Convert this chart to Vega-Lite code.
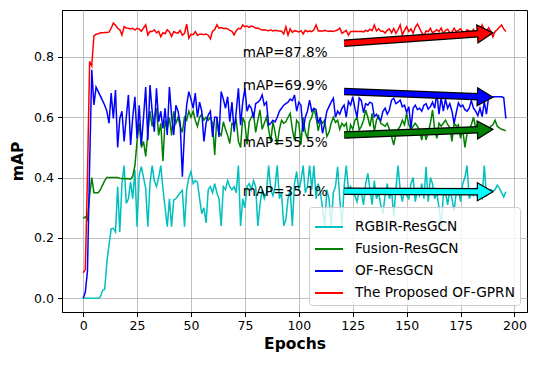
{
  "$schema": "https://vega.github.io/schema/vega-lite/v6.json",
  "width": 465,
  "height": 302,
  "autosize": {"type": "none"},
  "padding": {"left": 62, "top": 10, "right": 10, "bottom": 54},
  "background": "white",
  "datasets": {
    "curves": [
      {"e":0,"c":0,"g":0.265,"b":0,"r":0.084},
      {"e":1,"c":0,"g":0.27,"b":0.02,"r":0.095},
      {"e":2,"c":0,"g":0.26,"b":0.09,"r":0.40},
      {"e":3,"c":0,"g":0.34,"b":0.44,"r":0.785},
      {"e":4,"c":0,"g":0.40,"b":0.757,"r":0.77},
      {"e":5,"c":0,"g":0.35,"b":0.641,"r":0.87},
      {"e":6,"c":0,"g":0.35,"b":0.70,"r":0.875},
      {"e":7,"c":0,"g":0.35,"b":0.685,"r":0.877},
      {"e":8,"c":0.005,"g":0.36,"b":0.67,"r":0.88},
      {"e":9,"c":0.026,"g":0.375,"b":0.655,"r":0.88},
      {"e":10,"c":0.03,"g":0.39,"b":0.64,"r":0.881},
      {"e":11,"c":0.12,"g":0.40,"b":0.62,"r":0.881},
      {"e":12,"c":0.176,"g":0.40,"b":0.58,"r":0.882},
      {"e":13,"c":0.23,"g":0.40,"b":0.68,"r":0.895},
      {"e":14,"c":0.232,"g":0.40,"b":0.596,"r":0.912},
      {"e":15,"c":0.22,"g":0.40,"b":0.69,"r":0.905},
      {"e":16,"c":0.37,"g":0.40,"b":0.50,"r":0.895},
      {"e":17,"c":0.22,"g":0.398,"b":0.596,"r":0.89},
      {"e":18,"c":0.38,"g":0.397,"b":0.62,"r":0.873},
      {"e":19,"c":0.44,"g":0.396,"b":0.52,"r":0.90},
      {"e":20,"c":0.314,"g":0.397,"b":0.60,"r":0.896},
      {"e":21,"c":0.33,"g":0.396,"b":0.674,"r":0.895},
      {"e":22,"c":0.386,"g":0.395,"b":0.508,"r":0.893},
      {"e":23,"c":0.33,"g":0.405,"b":0.60,"r":0.895},
      {"e":24,"c":0.425,"g":0.44,"b":0.668,"r":0.889},
      {"e":25,"c":0.237,"g":0.52,"b":0.53,"r":0.895},
      {"e":26,"c":0.408,"g":0.58,"b":0.64,"r":0.892},
      {"e":27,"c":0.436,"g":0.50,"b":0.508,"r":0.885},
      {"e":28,"c":0.40,"g":0.52,"b":0.60,"r":0.896},
      {"e":29,"c":0.364,"g":0.47,"b":0.70,"r":0.906},
      {"e":30,"c":0.237,"g":0.55,"b":0.524,"r":0.873},
      {"e":31,"c":0.38,"g":0.62,"b":0.707,"r":0.885},
      {"e":32,"c":0.44,"g":0.57,"b":0.62,"r":0.884},
      {"e":33,"c":0.39,"g":0.60,"b":0.552,"r":0.89},
      {"e":34,"c":0.37,"g":0.63,"b":0.696,"r":0.88},
      {"e":35,"c":0.40,"g":0.54,"b":0.585,"r":0.885},
      {"e":36,"c":0.44,"g":0.58,"b":0.62,"r":0.867},
      {"e":37,"c":0.364,"g":0.455,"b":0.563,"r":0.88},
      {"e":38,"c":0.30,"g":0.59,"b":0.63,"r":0.877},
      {"e":39,"c":0.237,"g":0.56,"b":0.541,"r":0.89},
      {"e":40,"c":0.33,"g":0.60,"b":0.70,"r":0.883},
      {"e":41,"c":0.237,"g":0.54,"b":0.607,"r":0.868},
      {"e":42,"c":0.325,"g":0.62,"b":0.541,"r":0.884},
      {"e":43,"c":0.33,"g":0.58,"b":0.64,"r":0.88},
      {"e":44,"c":0.34,"g":0.60,"b":0.62,"r":0.879},
      {"e":45,"c":0.35,"g":0.57,"b":0.58,"r":0.888},
      {"e":46,"c":0.358,"g":0.55,"b":0.403,"r":0.872},
      {"e":47,"c":0.237,"g":0.60,"b":0.552,"r":0.878},
      {"e":48,"c":0.36,"g":0.59,"b":0.64,"r":0.909},
      {"e":49,"c":0.40,"g":0.62,"b":0.685,"r":0.862},
      {"e":50,"c":0.42,"g":0.60,"b":0.66,"r":0.875},
      {"e":51,"c":0.38,"g":0.62,"b":0.63,"r":0.874},
      {"e":52,"c":0.39,"g":0.59,"b":0.68,"r":0.884},
      {"e":53,"c":0.385,"g":0.57,"b":0.60,"r":0.872},
      {"e":54,"c":0.33,"g":0.60,"b":0.65,"r":0.875},
      {"e":55,"c":0.28,"g":0.61,"b":0.62,"r":0.875},
      {"e":56,"c":0.30,"g":0.59,"b":0.52,"r":0.874},
      {"e":57,"c":0.25,"g":0.60,"b":0.58,"r":0.876},
      {"e":58,"c":0.36,"g":0.59,"b":0.607,"r":0.872},
      {"e":59,"c":0.37,"g":0.60,"b":0.62,"r":0.86},
      {"e":60,"c":0.35,"g":0.58,"b":0.535,"r":0.885},
      {"e":61,"c":0.38,"g":0.475,"b":0.60,"r":0.89},
      {"e":62,"c":0.35,"g":0.60,"b":0.60,"r":0.906},
      {"e":63,"c":0.33,"g":0.55,"b":0.535,"r":0.895},
      {"e":64,"c":0.24,"g":0.54,"b":0.685,"r":0.897},
      {"e":65,"c":0.37,"g":0.585,"b":0.66,"r":0.894},
      {"e":66,"c":0.36,"g":0.56,"b":0.63,"r":0.895},
      {"e":67,"c":0.39,"g":0.54,"b":0.668,"r":0.893},
      {"e":68,"c":0.37,"g":0.513,"b":0.585,"r":0.888},
      {"e":69,"c":0.36,"g":0.58,"b":0.65,"r":0.885},
      {"e":70,"c":0.37,"g":0.575,"b":0.552,"r":0.873},
      {"e":71,"c":0.35,"g":0.59,"b":0.62,"r":0.887},
      {"e":72,"c":0.44,"g":0.52,"b":0.696,"r":0.895},
      {"e":73,"c":0.24,"g":0.50,"b":0.574,"r":0.893},
      {"e":74,"c":0.33,"g":0.60,"b":0.65,"r":0.906},
      {"e":75,"c":0.30,"g":0.58,"b":0.696,"r":0.90},
      {"e":76,"c":0.37,"g":0.51,"b":0.62,"r":0.902},
      {"e":77,"c":0.38,"g":0.585,"b":0.64,"r":0.898},
      {"e":78,"c":0.36,"g":0.60,"b":0.63,"r":0.902},
      {"e":79,"c":0.39,"g":0.613,"b":0.596,"r":0.90},
      {"e":80,"c":0.37,"g":0.55,"b":0.645,"r":0.895},
      {"e":81,"c":0.24,"g":0.59,"b":0.65,"r":0.896},
      {"e":82,"c":0.31,"g":0.624,"b":0.657,"r":0.892},
      {"e":83,"c":0.36,"g":0.56,"b":0.674,"r":0.889},
      {"e":84,"c":0.33,"g":0.58,"b":0.64,"r":0.89},
      {"e":85,"c":0.35,"g":0.60,"b":0.65,"r":0.888},
      {"e":86,"c":0.44,"g":0.56,"b":0.574,"r":0.887},
      {"e":87,"c":0.36,"g":0.519,"b":0.58,"r":0.889},
      {"e":88,"c":0.34,"g":0.585,"b":0.59,"r":0.886},
      {"e":89,"c":0.37,"g":0.55,"b":0.585,"r":0.888},
      {"e":90,"c":0.44,"g":0.508,"b":0.60,"r":0.887},
      {"e":91,"c":0.33,"g":0.56,"b":0.62,"r":0.886},
      {"e":92,"c":0.35,"g":0.59,"b":0.63,"r":0.885},
      {"e":93,"c":0.24,"g":0.58,"b":0.64,"r":0.876},
      {"e":94,"c":0.26,"g":0.585,"b":0.645,"r":0.90},
      {"e":95,"c":0.33,"g":0.60,"b":0.65,"r":0.872},
      {"e":96,"c":0.36,"g":0.613,"b":0.66,"r":0.893},
      {"e":97,"c":0.24,"g":0.56,"b":0.655,"r":0.881},
      {"e":98,"c":0.38,"g":0.524,"b":0.674,"r":0.887},
      {"e":99,"c":0.42,"g":0.59,"b":0.62,"r":0.885},
      {"e":100,"c":0.36,"g":0.58,"b":0.65,"r":0.883},
      {"e":101,"c":0.39,"g":0.51,"b":0.64,"r":0.887},
      {"e":102,"c":0.44,"g":0.60,"b":0.552,"r":0.876},
      {"e":103,"c":0.35,"g":0.55,"b":0.60,"r":0.888},
      {"e":104,"c":0.37,"g":0.53,"b":0.62,"r":0.884},
      {"e":105,"c":0.44,"g":0.585,"b":0.657,"r":0.886},
      {"e":106,"c":0.36,"g":0.60,"b":0.62,"r":0.884},
      {"e":107,"c":0.44,"g":0.63,"b":0.63,"r":0.89},
      {"e":108,"c":0.33,"g":0.60,"b":0.625,"r":0.906},
      {"e":109,"c":0.38,"g":0.555,"b":0.58,"r":0.886},
      {"e":110,"c":0.35,"g":0.59,"b":0.60,"r":0.887},
      {"e":111,"c":0.30,"g":0.58,"b":0.547,"r":0.885},
      {"e":112,"c":0.24,"g":0.59,"b":0.58,"r":0.888},
      {"e":113,"c":0.36,"g":0.536,"b":0.62,"r":0.886},
      {"e":114,"c":0.33,"g":0.55,"b":0.635,"r":0.885},
      {"e":115,"c":0.24,"g":0.58,"b":0.65,"r":0.886},
      {"e":116,"c":0.35,"g":0.60,"b":0.663,"r":0.884},
      {"e":117,"c":0.37,"g":0.583,"b":0.60,"r":0.887},
      {"e":118,"c":0.436,"g":0.59,"b":0.62,"r":0.889},
      {"e":119,"c":0.33,"g":0.56,"b":0.61,"r":0.896},
      {"e":120,"c":0.24,"g":0.58,"b":0.63,"r":0.878},
      {"e":121,"c":0.37,"g":0.57,"b":0.64,"r":0.883},
      {"e":122,"c":0.44,"g":0.58,"b":0.60,"r":0.888},
      {"e":123,"c":0.36,"g":0.53,"b":0.652,"r":0.872},
      {"e":124,"c":0.37,"g":0.575,"b":0.64,"r":0.884},
      {"e":125,"c":0.35,"g":0.56,"b":0.668,"r":0.884},
      {"e":126,"c":0.34,"g":0.59,"b":0.63,"r":0.885},
      {"e":127,"c":0.32,"g":0.60,"b":0.60,"r":0.884},
      {"e":128,"c":0.36,"g":0.558,"b":0.664,"r":0.884},
      {"e":129,"c":0.35,"g":0.57,"b":0.655,"r":0.885},
      {"e":130,"c":0.31,"g":0.59,"b":0.615,"r":0.883},
      {"e":131,"c":0.38,"g":0.624,"b":0.645,"r":0.888},
      {"e":132,"c":0.414,"g":0.60,"b":0.64,"r":0.885},
      {"e":133,"c":0.36,"g":0.57,"b":0.65,"r":0.892},
      {"e":134,"c":0.31,"g":0.613,"b":0.646,"r":0.887},
      {"e":135,"c":0.39,"g":0.552,"b":0.602,"r":0.906},
      {"e":136,"c":0.33,"g":0.59,"b":0.61,"r":0.886},
      {"e":137,"c":0.35,"g":0.605,"b":0.596,"r":0.893},
      {"e":138,"c":0.31,"g":0.58,"b":0.59,"r":0.885},
      {"e":139,"c":0.28,"g":0.575,"b":0.62,"r":0.886},
      {"e":140,"c":0.34,"g":0.57,"b":0.63,"r":0.879},
      {"e":141,"c":0.38,"g":0.58,"b":0.61,"r":0.888},
      {"e":142,"c":0.33,"g":0.56,"b":0.624,"r":0.893},
      {"e":143,"c":0.36,"g":0.536,"b":0.657,"r":0.88},
      {"e":144,"c":0.27,"g":0.508,"b":0.663,"r":0.894},
      {"e":145,"c":0.36,"g":0.545,"b":0.645,"r":0.878},
      {"e":146,"c":0.44,"g":0.56,"b":0.65,"r":0.89},
      {"e":147,"c":0.36,"g":0.57,"b":0.657,"r":0.906},
      {"e":148,"c":0.32,"g":0.59,"b":0.635,"r":0.873},
      {"e":149,"c":0.36,"g":0.575,"b":0.64,"r":0.888},
      {"e":150,"c":0.34,"g":0.613,"b":0.616,"r":0.90},
      {"e":151,"c":0.33,"g":0.575,"b":0.635,"r":0.884},
      {"e":152,"c":0.38,"g":0.56,"b":0.563,"r":0.893},
      {"e":153,"c":0.40,"g":0.57,"b":0.63,"r":0.878},
      {"e":154,"c":0.32,"g":0.58,"b":0.64,"r":0.898},
      {"e":155,"c":0.36,"g":0.57,"b":0.625,"r":0.909},
      {"e":156,"c":0.34,"g":0.555,"b":0.63,"r":0.895},
      {"e":157,"c":0.38,"g":0.524,"b":0.62,"r":0.88},
      {"e":158,"c":0.33,"g":0.56,"b":0.64,"r":0.87},
      {"e":159,"c":0.436,"g":0.525,"b":0.645,"r":0.886},
      {"e":160,"c":0.32,"g":0.55,"b":0.627,"r":0.884},
      {"e":161,"c":0.40,"g":0.58,"b":0.635,"r":0.895},
      {"e":162,"c":0.38,"g":0.624,"b":0.65,"r":0.88},
      {"e":163,"c":0.33,"g":0.56,"b":0.63,"r":0.885},
      {"e":164,"c":0.35,"g":0.53,"b":0.68,"r":0.89},
      {"e":165,"c":0.30,"g":0.58,"b":0.61,"r":0.884},
      {"e":166,"c":0.24,"g":0.57,"b":0.665,"r":0.896},
      {"e":167,"c":0.34,"g":0.58,"b":0.62,"r":0.877},
      {"e":168,"c":0.35,"g":0.59,"b":0.66,"r":0.888},
      {"e":169,"c":0.31,"g":0.576,"b":0.63,"r":0.892},
      {"e":170,"c":0.36,"g":0.565,"b":0.645,"r":0.88},
      {"e":171,"c":0.33,"g":0.52,"b":0.62,"r":0.882},
      {"e":172,"c":0.29,"g":0.58,"b":0.58,"r":0.895},
      {"e":173,"c":0.35,"g":0.57,"b":0.615,"r":0.884},
      {"e":174,"c":0.36,"g":0.575,"b":0.648,"r":0.888},
      {"e":175,"c":0.32,"g":0.53,"b":0.635,"r":0.893},
      {"e":176,"c":0.38,"g":0.56,"b":0.64,"r":0.883},
      {"e":177,"c":0.40,"g":0.50,"b":0.625,"r":0.879},
      {"e":178,"c":0.44,"g":0.545,"b":0.62,"r":0.89},
      {"e":179,"c":0.33,"g":0.56,"b":0.63,"r":0.886},
      {"e":180,"c":0.35,"g":0.575,"b":0.655,"r":0.882},
      {"e":181,"c":0.34,"g":0.60,"b":0.63,"r":0.891},
      {"e":182,"c":0.36,"g":0.565,"b":0.62,"r":0.878},
      {"e":183,"c":0.33,"g":0.58,"b":0.605,"r":0.89},
      {"e":184,"c":0.34,"g":0.57,"b":0.63,"r":0.885},
      {"e":185,"c":0.33,"g":0.545,"b":0.602,"r":0.906},
      {"e":186,"c":0.44,"g":0.565,"b":0.652,"r":0.891},
      {"e":187,"c":0.34,"g":0.55,"b":0.61,"r":0.884},
      {"e":188,"c":0.35,"g":0.555,"b":0.668,"r":0.897},
      {"e":189,"c":0.36,"g":0.57,"b":0.668,"r":0.885},
      {"e":190,"c":0.355,"g":0.575,"b":0.668,"r":0.866},
      {"e":191,"c":0.36,"g":0.59,"b":0.668,"r":0.884},
      {"e":192,"c":0.375,"g":0.57,"b":0.668,"r":0.89},
      {"e":193,"c":0.365,"g":0.565,"b":0.668,"r":0.898},
      {"e":194,"c":0.35,"g":0.56,"b":0.668,"r":0.906},
      {"e":195,"c":0.336,"g":0.558,"b":0.665,"r":0.893},
      {"e":196,"c":0.353,"g":0.555,"b":0.596,"r":0.884}
    ],
    "arrows": [
      {"s":"r","x":121,"y":0.845,"x2":183.3,"y2":0.8765,"hx":186.4,"hy":0.878},
      {"s":"b","x":121,"y":0.685,"x2":183.3,"y2":0.6678,"hx":186.4,"hy":0.667},
      {"s":"g","x":121,"y":0.541,"x2":183.3,"y2":0.5582,"hx":186.4,"hy":0.559},
      {"s":"c","x":121,"y":0.355,"x2":183.3,"y2":0.3532,"hx":186.4,"hy":0.353}
    ],
    "notes": [
      {"x":74,"y":0.80,"t":"mAP=87.8%"},
      {"x":74,"y":0.69,"t":"mAP=69.9%"},
      {"x":74,"y":0.50,"t":"mAP=55.5%"},
      {"x":74,"y":0.34,"t":"mAP=35.1%"}
    ]
  },
  "layer": [
    {
      "data": {"name": "curves"},
      "transform": [{"fold": ["c", "g", "b", "r"], "as": ["s", "v"]}],
      "mark": {"type": "line", "strokeWidth": 1.5},
      "encoding": {
        "x": {"field": "e", "type": "quantitative", "title": "Epochs",
              "scale": {"domain": [-9.8, 205.8], "nice": false, "zero": false},
              "axis": {"values": [0, 25, 50, 75, 100, 125, 150, 175, 200]}},
        "y": {"field": "v", "type": "quantitative", "title": "mAP",
              "scale": {"domain": [-0.0455, 0.9555], "nice": false, "zero": false},
              "axis": {"values": [0, 0.2, 0.4, 0.6, 0.8], "format": ".1f"}},
        "color": {"field": "s", "type": "nominal",
                  "scale": {"domain": ["c", "g", "b", "r"], "range": ["#00bfbf", "#008000", "#0000ff", "#ff0000"]},
                  "legend": {"labelExpr": "{'c':'RGBIR-ResGCN','g':'Fusion-ResGCN','b':'OF-ResGCN','r':'The Proposed OF-GPRN'}[datum.label]"}}
      }
    },
    {
      "data": {"name": "arrows"},
      "mark": {"type": "rule", "color": "black", "strokeWidth": 7.5, "strokeCap": "butt"},
      "encoding": {
        "x": {"field": "x", "type": "quantitative", "title": "Epochs", "scale": {"domain": [-9.8, 205.8], "nice": false, "zero": false}},
        "x2": {"field": "x2"},
        "y": {"field": "y", "type": "quantitative", "title": "mAP", "scale": {"domain": [-0.0455, 0.9555], "nice": false, "zero": false}},
        "y2": {"field": "y2"}
      }
    },
    {
      "data": {"name": "arrows"},
      "transform": [{"filter": "datum.s == 'r'"}],
      "mark": {"type": "point", "shape": "triangle-right", "size": 324, "filled": true, "fill": "#ff0000", "stroke": "black", "strokeWidth": 1.2, "opacity": 1, "angle": -4},
      "encoding": {
        "x": {"field": "hx", "type": "quantitative", "title": "Epochs", "scale": {"domain": [-9.8, 205.8], "nice": false, "zero": false}},
        "y": {"field": "hy", "type": "quantitative", "title": "mAP", "scale": {"domain": [-0.0455, 0.9555], "nice": false, "zero": false}}
      }
    },
    {
      "data": {"name": "arrows"},
      "transform": [{"filter": "datum.s == 'b'"}],
      "mark": {"type": "point", "shape": "triangle-right", "size": 324, "filled": true, "fill": "#0000ff", "stroke": "black", "strokeWidth": 1.2, "opacity": 1, "angle": 2},
      "encoding": {
        "x": {"field": "hx", "type": "quantitative", "title": "Epochs", "scale": {"domain": [-9.8, 205.8], "nice": false, "zero": false}},
        "y": {"field": "hy", "type": "quantitative", "title": "mAP", "scale": {"domain": [-0.0455, 0.9555], "nice": false, "zero": false}}
      }
    },
    {
      "data": {"name": "arrows"},
      "transform": [{"filter": "datum.s == 'g'"}],
      "mark": {"type": "point", "shape": "triangle-right", "size": 324, "filled": true, "fill": "#008000", "stroke": "black", "strokeWidth": 1.2, "opacity": 1, "angle": -2},
      "encoding": {
        "x": {"field": "hx", "type": "quantitative", "title": "Epochs", "scale": {"domain": [-9.8, 205.8], "nice": false, "zero": false}},
        "y": {"field": "hy", "type": "quantitative", "title": "mAP", "scale": {"domain": [-0.0455, 0.9555], "nice": false, "zero": false}}
      }
    },
    {
      "data": {"name": "arrows"},
      "transform": [{"filter": "datum.s == 'c'"}],
      "mark": {"type": "point", "shape": "triangle-right", "size": 324, "filled": true, "fill": "#00ffff", "stroke": "black", "strokeWidth": 1.2, "opacity": 1, "angle": 0},
      "encoding": {
        "x": {"field": "hx", "type": "quantitative", "title": "Epochs", "scale": {"domain": [-9.8, 205.8], "nice": false, "zero": false}},
        "y": {"field": "hy", "type": "quantitative", "title": "mAP", "scale": {"domain": [-0.0455, 0.9555], "nice": false, "zero": false}}
      }
    },
    {
      "data": {"name": "arrows"},
      "mark": {"type": "rule", "strokeWidth": 5, "strokeCap": "butt"},
      "encoding": {
        "x": {"field": "x", "type": "quantitative", "title": "Epochs", "scale": {"domain": [-9.8, 205.8], "nice": false, "zero": false}},
        "x2": {"field": "x2"},
        "y": {"field": "y", "type": "quantitative", "title": "mAP", "scale": {"domain": [-0.0455, 0.9555], "nice": false, "zero": false}},
        "y2": {"field": "y2"},
        "stroke": {"field": "s", "type": "nominal",
                   "scale": {"domain": ["c", "g", "b", "r"], "range": ["#00ffff", "#008000", "#0000ff", "#ff0000"]},
                   "legend": null}
      }
    },
    {
      "data": {"name": "notes"},
      "mark": {"type": "text", "align": "left", "baseline": "alphabetic", "fontSize": 13.5, "font": "DejaVu Sans", "color": "black"},
      "encoding": {
        "x": {"field": "x", "type": "quantitative", "title": "Epochs", "scale": {"domain": [-9.8, 205.8], "nice": false, "zero": false}},
        "y": {"field": "y", "type": "quantitative", "title": "mAP", "scale": {"domain": [-0.0455, 0.9555], "nice": false, "zero": false}},
        "text": {"field": "t"}
      }
    }
  ],
  "config": {
    "font": "DejaVu Sans",
    "view": {"stroke": "black", "strokeWidth": 1},
    "axis": {
      "grid": true, "gridColor": "#b0b0b0", "gridWidth": 0.8,
      "domainColor": "black", "domainWidth": 1,
      "tickColor": "black", "tickSize": 4.5, "tickWidth": 1,
      "labelFont": "DejaVu Sans", "labelFontSize": 12.5, "labelColor": "black",
      "titleFont": "DejaVu Sans", "titleFontSize": 15.5, "titleFontWeight": "bold", "titleColor": "black",
      "labelFlush": false, "labelOverlap": false
    },
    "axisX": {"labelPadding": 3, "titlePadding": 4},
    "axisY": {"labelPadding": 4, "titlePadding": 8},
    "legend": {
      "orient": "bottom-right", "offset": 7, "padding": 5,
      "fillColor": "rgba(255,255,255,0.8)", "strokeColor": "#cccccc", "cornerRadius": 3,
      "symbolType": "stroke", "symbolSize": 784, "symbolStrokeWidth": 2,
      "labelFont": "DejaVu Sans", "labelFontSize": 13.7, "labelColor": "black", "labelOffset": 11,
      "rowPadding": -3, "title": null, "titleFontSize": 0
    }
  }
}
